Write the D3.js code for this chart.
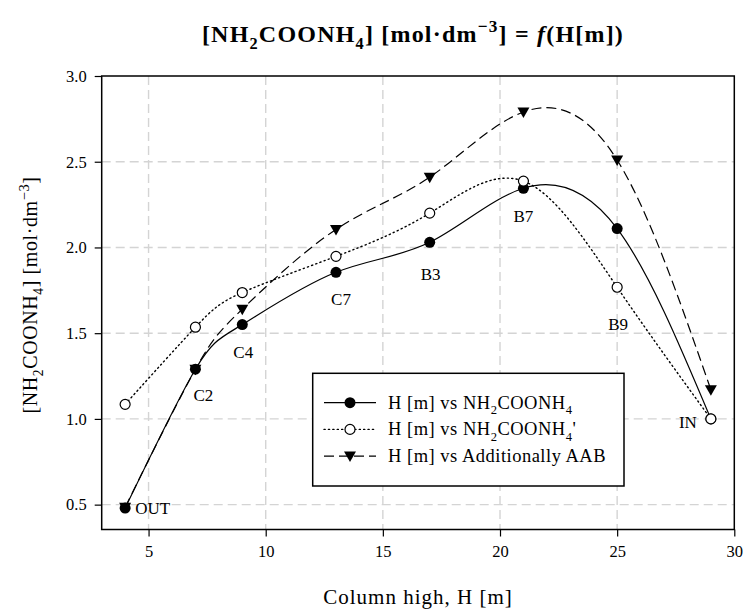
<!DOCTYPE html>
<html>
<head>
<meta charset="utf-8">
<script src="https://cdn.jsdelivr.net/npm/d3@7"></script>
<style>
  html, body { margin: 0; padding: 0; background: #fff; }
  svg { display: block; }
  text { font-family: "Liberation Serif", "DejaVu Serif", serif; fill: #000; }
</style>
</head>
<body>
<svg id="chart" width="744" height="612"></svg>
<script>
// ---------- data ----------
const heights = [4, 7, 9, 13, 17, 21, 25, 29];
const nh2coonh4 = [0.48, 1.29, 1.55, 1.855, 2.03, 2.345, 2.11, 1.0];
const nh2coonh4Prime = [1.085, 1.535, 1.737, 1.948, 2.2, 2.387, 1.768, 1.0];
const additionallyAAB = [0.485, 1.29, 1.64, 2.105, 2.41, 2.79, 2.51, 1.17];
const pointLabels = ["OUT", "C2", "C4", "C7", "B3", "B7", "B9", "IN"];
const xTicks = [5, 10, 15, 20, 25, 30];
const yTicks = [0.5, 1.0, 1.5, 2.0, 2.5, 3.0];
const seriesNames = ["H [m] vs NH2COONH4", "H [m] vs NH2COONH4'", "H [m] vs Additionally AAB"];

// ---------- layout ----------
const plot = { left: 101.7, right: 734.3, top: 76, bottom: 529.5 };
const labelOffsets = [[10, 0, "start"], [8, 26, "middle"], [1, 27.5, "middle"], [5, 27, "middle"],
                      [1, 31.5, "middle"], [0, 28, "middle"], [1, 95, "middle"], [-14, 3, "end"]];

const svg = d3.select("#chart");
const x = d3.scaleLinear().domain([3, 30]).range([plot.left, plot.right]);
const y = d3.scaleLinear().domain([0.355, 3.0]).range([plot.bottom, plot.top]);

// grid
const grid = svg.append("g").attr("stroke", "#d4d4d4").attr("stroke-width", 1.4)
  .attr("stroke-dasharray", "9,5").attr("fill", "none");
grid.selectAll("line.v").data(xTicks.filter(d => d < 30)).join("line")
  .attr("x1", d => x(d)).attr("x2", d => x(d)).attr("y1", plot.top).attr("y2", plot.bottom);
grid.selectAll("line.h").data(yTicks.filter(d => d < 3)).join("line")
  .attr("y1", d => y(d)).attr("y2", d => y(d)).attr("x1", plot.left).attr("x2", plot.right);

// axes
const xAxis = svg.append("g").attr("transform", `translate(0,${plot.bottom})`)
  .call(d3.axisBottom(x).tickValues(xTicks).tickFormat(d3.format("d")).tickSize(7).tickPadding(9));
const yAxis = svg.append("g").attr("transform", `translate(${plot.left},0)`)
  .call(d3.axisLeft(y).tickValues(yTicks).tickFormat(d3.format(".1f")).tickSize(7).tickPadding(8));
[xAxis, yAxis].forEach(a => {
  a.select(".domain").remove();
  a.selectAll("line").attr("stroke", "#000").attr("stroke-width", 1.2);
  a.selectAll("text").style("font-size", "16.5px").style("font-family", "Liberation Serif, serif");
});

// frame
svg.append("rect").attr("x", plot.left).attr("y", plot.top)
  .attr("width", plot.right - plot.left).attr("height", plot.bottom - plot.top)
  .attr("fill", "none").attr("stroke", "#000").attr("stroke-width", 1.5);

// series
const series = [
  { values: nh2coonh4, dash: null, marker: "filled" },
  { values: nh2coonh4Prime, dash: "1.2,3.2", marker: "open" },
  { values: additionallyAAB, dash: "10,5", marker: "tri" }
];
const line = d3.line().x(d => x(d[0])).y(d => y(d[1])).curve(d3.curveNatural);

function drawMarker(g, type, cx, cy) {
  if (type === "filled") {
    g.append("circle").attr("cx", cx).attr("cy", cy).attr("r", 5.5).attr("fill", "#000");
  } else if (type === "open") {
    g.append("circle").attr("cx", cx).attr("cy", cy).attr("r", 5).attr("fill", "#fff")
      .attr("stroke", "#000").attr("stroke-width", 1.2);
  } else {
    g.append("path").attr("d", `M${cx - 6},${cy - 4.5}L${cx + 6},${cy - 4.5}L${cx},${cy + 6}Z`).attr("fill", "#000");
  }
}

series.forEach(s => {
  const pts = heights.map((h, i) => [h, s.values[i]]);
  const g = svg.append("g");
  g.append("path").datum(pts).attr("d", line).attr("fill", "none").attr("stroke", "#000")
    .attr("stroke-width", s.marker === "open" ? 1.4 : 1.2)
    .attr("stroke-dasharray", s.dash).attr("stroke-linecap", s.marker === "open" ? "round" : "butt");
  pts.forEach(p => drawMarker(g, s.marker, x(p[0]), y(p[1])));
});

// point labels
svg.append("g").selectAll("text").data(pointLabels).join("text")
  .attr("x", (d, i) => x(heights[i]) + labelOffsets[i][0])
  .attr("y", (d, i) => y(nh2coonh4[i]) + labelOffsets[i][1])
  .attr("dy", "0.35em").attr("text-anchor", (d, i) => labelOffsets[i][2])
  .style("font-size", "17px").text(d => d);

// rich text helper: parts [text, mode] mode: n, sub, sup, it
function rich(textSel, parts, size) {
  let shift = 0;
  parts.forEach(([t, m]) => {
    const sp = textSel.append("tspan").text(t);
    let target = 0;
    if (m === "sub") { sp.style("font-size", (size * 0.68) + "px"); target = size * 0.3; }
    else if (m === "sup") { sp.style("font-size", (size * 0.72) + "px"); target = -size * 0.42; }
    else if (m === "it") { sp.style("font-style", "italic"); }
    sp.attr("dy", target - shift);
    shift = target;
  });
}

// title
const title = svg.append("text").attr("x", 413).attr("y", 42).attr("text-anchor", "middle")
  .style("font-size", "24px").style("font-weight", "bold").style("letter-spacing", "1.2px");
rich(title, [["[NH", "n"], ["2", "sub"], ["COONH", "n"], ["4", "sub"], ["] [mol·dm", "n"], ["−3", "sup"],
  ["] = ", "n"], ["f", "it"], ["(H[m])", "n"]], 24);

// axis titles
svg.append("text").attr("x", 418).attr("y", 604).attr("text-anchor", "middle")
  .style("font-size", "21px").style("letter-spacing", "1px").text("Column high, H [m]");
const yl = svg.append("text").attr("transform", "translate(37,295) rotate(-90)").attr("text-anchor", "middle")
  .style("font-size", "20px").style("letter-spacing", "0.6px");
rich(yl, [["[NH", "n"], ["2", "sub"], ["COONH", "n"], ["4", "sub"], ["] [mol·dm", "n"], ["−3", "sup"], ["]", "n"]], 20);

// legend
const lg = svg.append("g");
lg.append("rect").attr("x", 312.7).attr("y", 373.3).attr("width", 311.3).attr("height", 112.7)
  .attr("fill", "#fff").attr("stroke", "#000").attr("stroke-width", 1.5);
series.forEach((s, i) => {
  const ry = 402.7 + i * 26.7;
  lg.append("line").attr("x1", 324).attr("x2", 376).attr("y1", ry).attr("y2", ry)
    .attr("stroke", "#000").attr("stroke-width", s.marker === "open" ? 1.4 : 1.2)
    .attr("stroke-dasharray", s.dash).attr("stroke-linecap", s.marker === "open" ? "round" : "butt");
  drawMarker(lg, s.marker, 350, ry);
  const t = lg.append("text").attr("x", 388).attr("y", ry + 6).style("font-size", "18.5px")
    .style("letter-spacing", "0.5px");
  const name = seriesNames[i];
  const m = name.match(/^(.*NH)2(COONH)4(.*)$/);
  if (m) rich(t, [[m[1], "n"], ["2", "sub"], [m[2], "n"], ["4", "sub"], [m[3], "n"]], 18.5);
  else t.text(name);
});
</script>
</body>
</html>
